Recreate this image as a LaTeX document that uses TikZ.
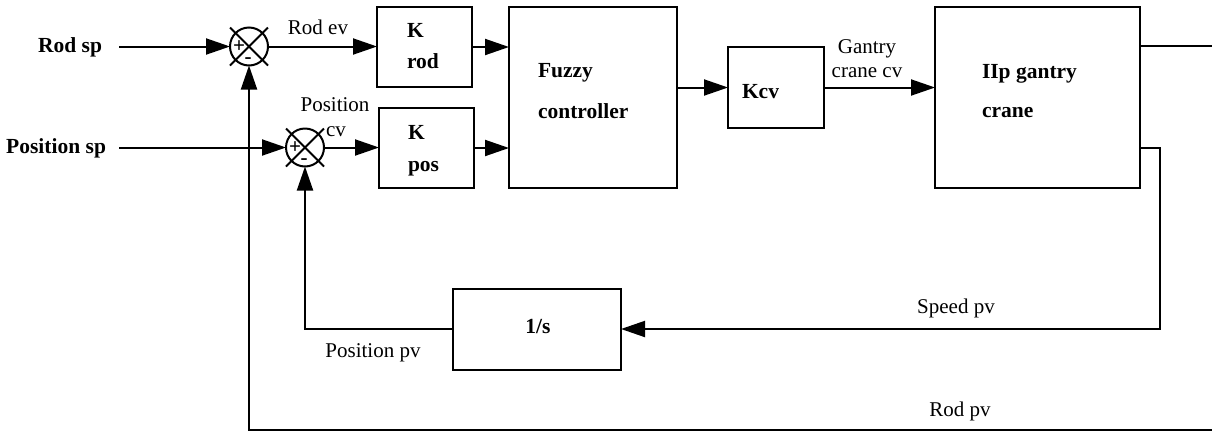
\documentclass[tikz,border=0pt]{standalone}
\usepackage{fontspec}
\setmainfont{Liberation Serif}
\usetikzlibrary{arrows.meta}
\begin{document}
\begin{tikzpicture}[x=1pt,y=-1pt,
  line width=2pt,
  txt/.style={font=\fontsize{21}{25}\selectfont, inner sep=0pt},
  bl/.style={font=\fontsize{21.5}{25}\selectfont\bfseries, inner sep=0pt},
  sgn/.style={font=\fontsize{21}{21}\selectfont\bfseries, inner sep=0pt},
  blk/.style={draw, rectangle, inner sep=0pt, outer sep=0pt},
  summer/.style={draw, circle, minimum size=38pt, inner sep=0pt, outer sep=0pt},
  sig/.style={-{Triangle[length=24pt,width=16pt]}}]
\useasboundingbox (0,0) rectangle (1212,432);

% summing junctions
\node[summer] (s1) at (249,46.5) {};
\node[summer] (s2) at (305,147.5) {};
\foreach \s in {s1,s2} {
  \draw (\s.center) ++(-19,-19) -- ++(38,38);
  \draw (\s.center) ++(-19,19) -- ++(38,-38);
}
\node[sgn, anchor=base] (s1p) at (239,52) {+};
\node[sgn, anchor=base] (s1m) at (248,63) {-};
\node[sgn, anchor=base] (s2p) at (295,153) {+};
\node[sgn, anchor=base] (s2m) at (304,164) {-};

% blocks
\node[blk, minimum width=95pt, minimum height=80pt] (krod) at (424.5,47) {};
\node[blk, minimum width=95pt, minimum height=80pt] (kpos) at (426.5,148) {};
\node[blk, minimum width=168pt, minimum height=181pt] (fuzzy) at (593,97.5) {};
\node[blk, minimum width=96pt, minimum height=81pt] (kcv) at (776,87.5) {};
\node[blk, minimum width=205pt, minimum height=181pt] (plant) at (1037.5,97.5) {};
\node[blk, minimum width=168pt, minimum height=81pt] (integ) at (537,329) {};

% block texts
\node[bl, anchor=base west] (krodK) at (406,37) {K};
\node[bl, anchor=base west] (krodR) at (406,68) {rod};
\node[bl, anchor=base west] (kposK) at (407,139) {K};
\node[bl, anchor=base west] (kposP) at (407,171) {pos};
\node[bl, anchor=base west] (fuzA) at (537,77) {Fuzzy};
\node[bl, anchor=base west] (fuzB) at (537,118) {controller};
\node[bl, anchor=base west] (kcvT) at (741,98) {Kcv};
\node[bl, anchor=base west] (plantA) at (981,78) {IIp gantry};
\node[bl, anchor=base west] (plantB) at (981,117) {crane};
\node[bl, anchor=base] (integT) at (538,333) {1/s};

% inputs
\node[bl, anchor=base east] (rodsp) at (103,52) {Rod sp};
\node[bl, anchor=base east] (possp) at (107,153) {Position sp};
\coordinate (rodspL) at (119,46.5);
\coordinate (posspL) at (119,147.5);

% signal labels
\node[txt, anchor=base] (lrodev) at (318,34) {Rod ev};
\node[txt, anchor=base] (lposA) at (335,111) {Position};
\node[txt, anchor=base] (lposB) at (336,136) {cv};
\node[txt, anchor=base] (lgcA) at (867,53) {Gantry};
\node[txt, anchor=base] (lgcB) at (867,77) {crane cv};
\node[txt, anchor=base] (lspeed) at (956,313) {Speed pv};
\node[txt, anchor=base] (lrodpv) at (960,416) {Rod pv};
\node[txt, anchor=base] (lpospv) at (373,357) {Position pv};

% outer coordinates
\coordinate (out) at (1212,46);
\coordinate (spd) at (1160,148);
\coordinate (rodpv) at (1212,430);

% forward path
\draw[sig] (rodspL) -- (s1.west);
\draw[sig] (posspL) -- (s2.west);
\draw[sig] (s1.east) -- (s1.east -| krod.west);
\draw[sig] (s2.east) -- (s2.east -| kpos.west);
\draw[sig] (krod.east) -- (krod.east -| fuzzy.west);
\draw[sig] (kpos.east) -- (kpos.east -| fuzzy.west);
\draw[sig] (fuzzy.east |- kcv.west) -- (kcv.west);
\draw[sig] (kcv.east) -- (kcv.east -| plant.west);
\draw (plant.east |- out) -- (out);

% feedback paths
\draw[sig] (plant.east |- spd) -- (spd) |- (integ.east);
\draw[sig] (integ.west) -| (s2.south);
\draw[sig] (rodpv) -| (s1.south);
\end{tikzpicture}
\end{document}
